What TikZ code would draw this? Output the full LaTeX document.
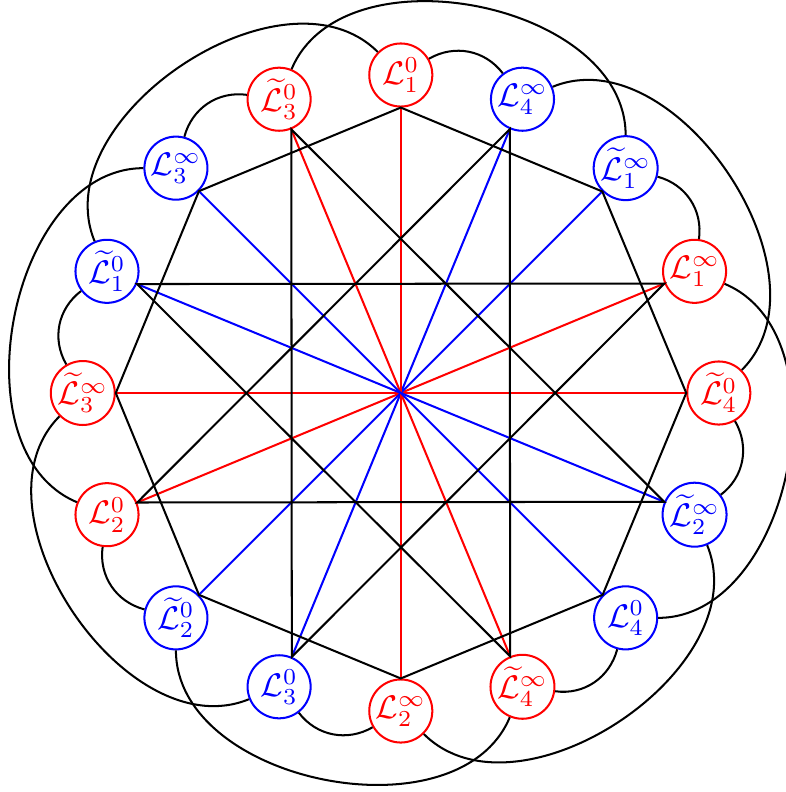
\documentclass[tikz,border=0pt]{standalone}
\usepackage{amsmath}
\begin{document}
\begin{tikzpicture}[x=0.306pt,y=0.306pt,
  lnode/.style={circle,draw,line width=0.62pt,minimum size=19.3pt,inner sep=0pt},
  rnode/.style={lnode,draw=red,text=red},
  bnode/.style={lnode,draw=blue,text=blue},
  lw/.style={line width=0.62pt}]
\useasboundingbox (-400.8,-399) rectangle (385.2,393);
\fill[white] (-400.8,-399) rectangle (385.2,393);
\node[rnode] (n0) at (0:318) {$\widetilde{\mathcal{L}}_4^0$};
\node[rnode] (n1) at (22.5:318) {$\mathcal{L}_1^\infty$};
\node[bnode] (n2) at (45:318) {$\widetilde{\mathcal{L}}_1^\infty$};
\node[bnode] (n3) at (67.5:318) {$\mathcal{L}_4^\infty$};
\node[rnode] (n4) at (90:318) {$\mathcal{L}_1^0$};
\node[rnode] (n5) at (112.5:318) {$\widetilde{\mathcal{L}}_3^0$};
\node[bnode] (n6) at (135:318) {$\mathcal{L}_3^\infty$};
\node[bnode] (n7) at (157.5:318) {$\widetilde{\mathcal{L}}_1^0$};
\node[rnode] (n8) at (180:318) {$\widetilde{\mathcal{L}}_3^\infty$};
\node[rnode] (n9) at (202.5:318) {$\mathcal{L}_2^0$};
\node[bnode] (n10) at (225:318) {$\widetilde{\mathcal{L}}_2^0$};
\node[bnode] (n11) at (247.5:318) {$\mathcal{L}_3^0$};
\node[rnode] (n12) at (270:318) {$\mathcal{L}_2^\infty$};
\node[rnode] (n13) at (292.5:318) {$\widetilde{\mathcal{L}}_4^\infty$};
\node[bnode] (n14) at (315:318) {$\mathcal{L}_4^0$};
\node[bnode] (n15) at (337.5:318) {$\widetilde{\mathcal{L}}_2^\infty$};
\foreach \k in {0,...,15} {
  \pgfmathsetmacro\ang{mod(22.5*\k+180,360)}
  \coordinate (c\k) at (n\k.\ang);
}
% diameters
\foreach \k/\col in {0/red,1/red,2/blue,3/blue,4/red,5/red,6/blue,7/blue} {
  \pgfmathtruncatemacro\m{\k+8}
  \draw[lw,\col] (c\k) -- (c\m);
}
% octagon and star
\draw[lw] (c0) -- (c2) -- (c4) -- (c6) -- (c8) -- (c10) -- (c12) -- (c14) -- cycle;
\draw[lw] (c1) -- (c7) -- (c13) -- (c3) -- (c9) -- (c15) -- (c5) -- (c11) -- cycle;
% outer arcs
\foreach \j in {0,...,7} {
  \pgfmathtruncatemacro\pa{2*\j+1}
  \pgfmathtruncatemacro\qa{mod(2*\j+2,16)}
  \pgfmathsetmacro\oa{45*\j+82.5}
  \pgfmathsetmacro\ia{45*\j-15}
  \draw[lw] (n\pa) to[out=\oa,in=\ia] (n\qa);
  \pgfmathtruncatemacro\pb{2*\j}
  \pgfmathtruncatemacro\qb{mod(2*\j+3,16)}
  \pgfmathsetmacro\ob{45*\j+45}
  \pgfmathsetmacro\ib{45*\j+22.5}
  \draw[lw] (n\pb) to[out=\ob,in=\ib] (n\qb);
}
\end{tikzpicture}
\end{document}
